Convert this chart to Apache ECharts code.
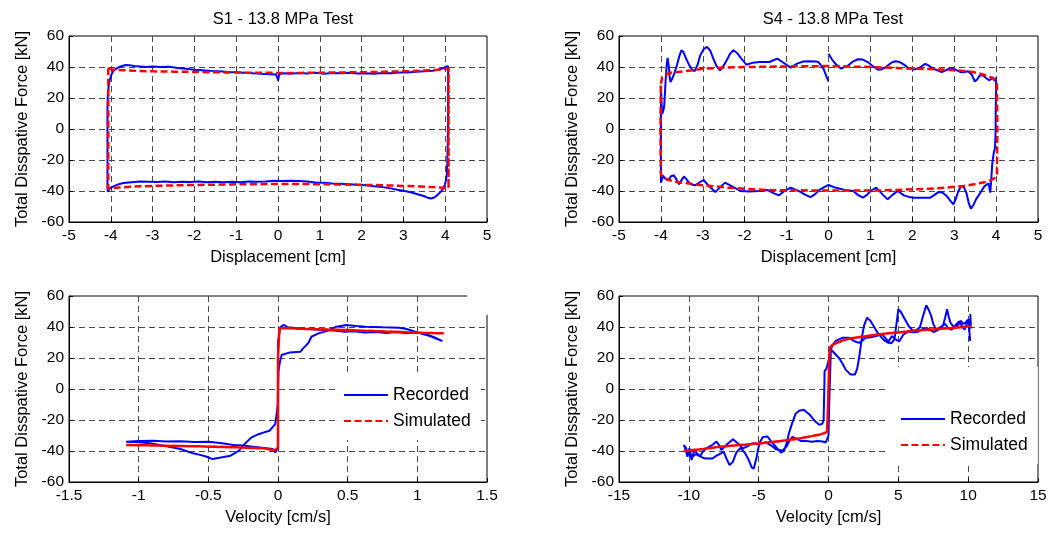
<!DOCTYPE html>
<html>
<head>
<meta charset="utf-8">
<script src="https://cdn.jsdelivr.net/npm/echarts@6/dist/echarts.min.js"></script>
<style>
html,body{margin:0;padding:0;background:#fff;}
#chart{width:1062px;height:533px;}
</style>
</head>
<body>
<div id="chart"></div>
<script>
// ---------- Titles / labels ----------
const panelTitles = ['S1 - 13.8 MPa Test', 'S4 - 13.8 MPa Test'];
const yName = 'Total Disspative Force [kN]';
const xNames = ['Displacement [cm]', 'Displacement [cm]', 'Velocity [cm/s]', 'Velocity [cm/s]'];
const legendNames = ['Recorded', 'Simulated'];

// ---------- S1 : force vs displacement ----------
const s1DispRec = [
 [0.00,31.0],[0.03,35.4],[0.15,35.9],[0.3,35.6],[0.5,36.2],[0.7,35.8],[0.9,36.3],[1.1,35.7],[1.3,36.1],[1.5,35.9],
 [1.7,36.3],[1.9,35.8],[2.1,36.0],[2.3,35.7],[2.5,36.2],[2.7,36.0],[2.9,36.4],[3.1,36.5],[3.3,36.9],[3.5,37.2],
 [3.7,37.6],[3.85,38.3],[3.95,39.2],[4.02,40.3],[4.05,41.5],[4.07,40.5],[4.07,30],[4.07,10],[4.06,-10],[4.05,-22],
 [4.04,-29],[4.02,-33],[3.99,-36],[3.95,-38.5],[3.9,-40.2],[3.82,-42.5],[3.74,-44.2],[3.66,-44.8],[3.58,-44.3],[3.5,-43.4],
 [3.4,-42.6],[3.3,-41.8],[3.15,-40.6],[3.0,-39.8],[2.85,-39.2],[2.7,-38.3],[2.5,-37.5],[2.3,-37.0],[2.1,-36.3],[1.9,-36.0],
 [1.7,-35.6],[1.5,-35.3],[1.3,-35.1],[1.1,-34.7],[0.9,-34.5],[0.7,-33.8],[0.5,-33.6],[0.3,-33.4],[0.1,-33.5],[-0.1,-33.4],
 [-0.3,-33.8],[-0.5,-34.1],[-0.7,-33.9],[-0.9,-34.3],[-1.1,-34.0],[-1.3,-34.4],[-1.5,-34.1],[-1.7,-34.3],[-1.9,-33.8],[-2.1,-34.2],
 [-2.3,-34.0],[-2.5,-34.3],[-2.7,-33.9],[-2.9,-34.2],[-3.1,-34.0],[-3.3,-33.8],[-3.5,-34.3],[-3.7,-34.8],[-3.85,-36.0],[-3.95,-37.2],
 [-4.03,-38.5],[-4.07,-40.5],[-4.08,-38],[-4.08,-20],[-4.08,0],[-4.08,15],[-4.07,23],[-4.05,28],[-4.02,32],[-3.98,35.5],
 [-3.93,37.8],[-3.85,39.3],[-3.75,40.5],[-3.65,41.3],[-3.55,41.2],[-3.45,40.6],[-3.3,40.4],[-3.15,40.0],[-3.0,40.3],[-2.8,40.0],
 [-2.6,40.2],[-2.4,39.4],[-2.2,38.8],[-2.0,38.2],[-1.8,37.9],[-1.6,37.5],[-1.4,37.3],[-1.2,36.8],[-1.0,36.6],[-0.8,36.3],
 [-0.6,35.9],[-0.4,35.6],[-0.2,35.4],[-0.05,35.2],[0.0,32]
];
const s1DispSim = [
 [-4.06,39.2],[-3.95,38.4],[-3.7,37.9],[-3.4,37.5],[-3.0,37.2],[-2.5,37.0],[-2.0,36.8],[-1.5,36.6],[-1.0,36.4],[-0.5,36.3],
 [0,36.2],[0.5,36.2],[1.0,36.3],[1.5,36.5],[2.0,36.6],[2.5,36.9],[3.0,37.2],[3.5,37.7],[3.8,38.2],[4.0,38.7],
 [4.08,39.2],[4.08,-38.4],[4.08,39.0],[4.08,-38.4],[3.95,-37.9],[3.7,-37.5],[3.4,-37.1],[3.0,-36.7],[2.5,-36.3],[2.0,-36.0],
 [1.5,-35.8],[1.0,-35.6],[0.5,-35.5],[0,-35.5],[-0.5,-35.6],[-1.0,-35.7],[-1.5,-35.9],[-2.0,-36.1],[-2.5,-36.4],[-3.0,-36.7],
 [-3.5,-37.2],[-3.8,-37.7],[-3.97,-38.2],[-4.06,-38.6],[-4.06,39.2]
];

// ---------- S4 : force vs displacement ----------
const s4DispRec = [
 [0.0,48.6],[0.08,45],[0.16,42.2],[0.3,38.9],[0.47,41],[0.58,43.5],[0.7,45],[0.82,44.8],[0.94,43.2],[1.06,40.5],
 [1.18,38.3],[1.28,38.6],[1.37,40],[1.5,42.8],[1.6,43.7],[1.7,43.2],[1.8,41.5],[1.92,39.2],[2.04,38.3],[2.17,39.5],
 [2.31,42],[2.4,40.8],[2.5,38.9],[2.6,37.8],[2.7,36.8],[2.8,37.8],[2.9,39.4],[3.02,38.5],[3.14,36.8],[3.23,36.6],
 [3.33,37.2],[3.42,35],[3.49,30.7],[3.55,32],[3.6,34.2],[3.67,34.8],[3.73,33.5],[3.83,31.4],[3.88,32.2],[3.92,33.5],
 [3.96,31],[3.98,30.3],[4.0,33],[4.0,25],[3.99,10],[3.99,0],[3.98,-8],[3.97,-13],[3.95,-14.5],[3.93,-18],
 [3.91,-22],[3.89,-30],[3.87,-38],[3.86,-41],[3.84,-38],[3.82,-35],[3.78,-34.6],[3.72,-37],[3.65,-40],[3.58,-43],
 [3.52,-45.4],[3.46,-49],[3.4,-51.5],[3.35,-48],[3.29,-41],[3.23,-37.5],[3.17,-36.8],[3.1,-40],[3.04,-45],[2.98,-48.6],
 [2.9,-46],[2.82,-43.2],[2.72,-41],[2.63,-40.6],[2.53,-42.5],[2.43,-44.3],[2.2,-44.3],[2.04,-44.3],[1.92,-43.8],[1.8,-42.8],
 [1.65,-40],[1.53,-42.5],[1.41,-45.4],[1.3,-42.5],[1.14,-37.8],[1.0,-40],[0.92,-42.5],[0.82,-44.3],[0.7,-42.5],[0.59,-40],
 [0.39,-39.4],[0.16,-37.8],[0.0,-36.1],[-0.2,-38.9],[-0.32,-42],[-0.43,-43.9],[-0.55,-42.5],[-0.67,-40.6],[-0.9,-37.8],[-1.05,-40],
 [-1.18,-42.8],[-1.3,-41.5],[-1.45,-39.4],[-1.65,-40],[-1.9,-40.3],[-2.1,-40],[-2.3,-37],[-2.47,-34.6],[-2.6,-38],[-2.7,-40.6],
 [-2.85,-37],[-2.98,-32.9],[-3.08,-34.5],[-3.18,-36.3],[-3.27,-35.8],[-3.33,-34.6],[-3.4,-32],[-3.45,-30.7],[-3.52,-33.5],[-3.57,-35.7],
 [-3.63,-32.5],[-3.69,-29.8],[-3.76,-30.5],[-3.82,-33],[-3.9,-32],[-3.95,-30],[-3.98,-33],[-4.0,-34.6],[-4.0,-25],[-4.0,-10],
 [-4.0,5],[-4.0,18],[-4.0,28],[-3.98,15],[-3.97,9.7],[-3.94,12],[-3.92,15],[-3.89,30],[-3.86,42],[-3.84,45.8],
 [-3.81,40],[-3.79,33],[-3.77,30.3],[-3.73,30],[-3.69,35],[-3.62,41],[-3.56,47],[-3.51,50.8],[-3.46,49.5],[-3.4,45.5],
 [-3.33,41.5],[-3.26,38.5],[-3.2,37.2],[-3.13,41],[-3.06,47.6],[-2.98,51.5],[-2.9,53],[-2.82,50.5],[-2.75,45.4],[-2.67,40.5],
 [-2.59,37.8],[-2.5,41],[-2.43,44.3],[-2.35,48.5],[-2.27,50.8],[-2.18,49],[-2.08,45.4],[-1.96,41.5],[-1.8,42.8],[-1.65,43.2],
 [-1.41,43.2],[-1.3,44.5],[-1.22,45.4],[-1.1,43.2],[-0.9,39.6],[-0.75,42.2],[-0.6,43.5],[-0.47,43.7],[-0.3,43.5],[-0.24,43.2],
 [-0.12,38.9],[-0.05,34],[0.0,30.7]
];
const s4DispSim = [
 [-4.0,29.2],[-3.97,33],[-3.9,34.8],[-3.77,36.3],[-3.45,37.2],[-2.98,38.9],[-2.5,39.6],[-1.88,40.0],[-1.0,40.4],[0,40.6],
 [1.0,40.0],[2.04,38.9],[2.82,38.3],[3.2,37.5],[3.45,36.8],[3.65,35.5],[3.8,34.2],[3.92,32.8],[3.98,31.5],[4.02,29.2],
 [4.03,0],[4.02,-29.2],[3.97,-31.5],[3.9,-32.8],[3.75,-34.2],[3.5,-35.5],[3.22,-36.8],[2.8,-37.8],[2.43,-38.5],[1.25,-39.6],
 [0,-39.7],[-1.49,-39.4],[-2.43,-37.8],[-3.06,-36.1],[-3.61,-34.2],[-3.85,-32.6],[-3.95,-31],[-4.0,-29.2],[-4.01,0],[-4.0,29.2]
];

// ---------- S1 : force vs velocity ----------
const s1VelRec = [
 [1.18,30.9],[1.12,33.5],[1.06,35.5],[1.0,36.4],[0.92,36.0],[0.85,36.7],[0.78,36.2],[0.7,36.8],[0.62,36.4],[0.55,37.2],
 [0.48,37.0],[0.4,37.8],[0.32,38.0],[0.25,38.6],[0.18,38.9],[0.12,39.3],[0.07,39.8],[0.045,41.3],[0.03,40.8],[0.015,39.5],
 [0.0,30],[0.0,0],[-0.002,-10],[-0.008,-15],[-0.02,-22.6],[-0.06,-26.9],[-0.1,-28],[-0.135,-29],[-0.19,-31.2],[-0.24,-35.5],
 [-0.28,-39.8],[-0.34,-43],[-0.4,-44],[-0.47,-45.2],[-0.51,-43.7],[-0.56,-42.5],[-0.61,-41.5],[-0.7,-38.7],[-0.8,-37],[-0.92,-35],
 [-1.0,-34.4],[-1.09,-34],[-1.09,-33.3],[-1.0,-33.6],[-0.9,-33.4],[-0.8,-33.9],[-0.7,-33.7],[-0.6,-34.2],[-0.5,-34.0],[-0.4,-35.0],
 [-0.32,-36.1],[-0.25,-36.5],[-0.18,-37.2],[-0.1,-38.0],[-0.04,-38.7],[-0.02,-40.9],[0.0,-38],[0.0,0],[0.004,12],[0.014,17.6],
 [0.026,21.9],[0.086,23.6],[0.16,24.0],[0.18,26.2],[0.2,28],[0.22,30],[0.24,33.7],[0.29,35.9],[0.35,37.4],[0.42,40.2],
 [0.49,41.3],[0.56,40.6],[0.63,40.2],[0.75,39.8],[0.87,39.5],[0.93,38.5],[1.02,35.9],[1.09,34.1],[1.18,30.9]
];
const s1VelSimOneWay = [
 [1.19,35.9],[1.0,36.3],[0.75,37.2],[0.5,38.0],[0.3,38.5],[0.15,38.9],[0.05,39.3],[0.01,39.2],[0.0,20],[0.0,-37.5],
 [-0.01,-38.8],[-0.03,-39.5],[-0.1,-38.3],[-0.3,-37.6],[-0.56,-37.0],[-0.8,-36.6],[-1.09,-36.1]
];

// ---------- S4 : force vs velocity ----------
const s4VelRec = [
 [10.15,48.5],[10.17,45],[10.19,42.2],[10.17,38.9],[10.13,41],[10.04,45],[9.92,43.2],[9.84,40.5],[9.75,38.3],[9.59,40],
 [9.36,43.7],[9.12,41.5],[8.95,39.2],[8.79,38.3],[8.55,39.5],[8.35,42],[8.17,40.8],[7.99,38.9],[7.78,37.8],[7.56,36.8],
 [7.3,37.8],[7.06,39.4],[6.7,38.5],[6.37,36.8],[6.0,36.6],[5.71,37.2],[5.35,35],[5.06,30.7],[4.8,32],[4.54,34.2],
 [4.29,30.5],[3.82,35.5],[3.35,34],[2.9,33.2],[2.64,33],[2.4,31],[2.17,29.8],[1.82,31],[1.46,33],[0.99,33],
 [0.52,31],[0.3,28.5],[0.17,27.7],[0.1,24],[0.0,18],[-0.15,13],[-0.28,11.5],[-0.3,0],[-0.33,-12],[-0.35,-20],
 [-0.45,-22.5],[-0.66,-23.1],[-0.94,-21],[-1.3,-17],[-1.77,-13.4],[-2.1,-14],[-2.36,-16],[-2.6,-22],[-2.83,-28.5],[-3.0,-35],
 [-3.18,-39.8],[-3.4,-41],[-3.7,-38],[-4.0,-35],[-4.36,-30.7],[-4.7,-31],[-4.95,-35],[-5.15,-44],[-5.35,-51.3],[-5.5,-50.5],
 [-5.7,-46],[-6.0,-41],[-6.3,-38],[-6.6,-41],[-6.85,-47],[-7.08,-49.1],[-7.3,-45],[-7.5,-40.6],[-7.8,-42],[-8.05,-43.2],
 [-8.3,-44.8],[-8.8,-44.8],[-9.0,-44.3],[-9.3,-43],[-9.5,-42],[-9.67,-43.2],[-9.85,-44.5],[-10.0,-41],[-10.1,-43.7],[-10.2,-40],
 [-10.3,-38.9],[-10.35,-36.1],[-10.2,-38],[-10.1,-41.5],[-9.95,-38.3],[-9.8,-45.8],[-9.7,-42],[-9.6,-39.4],[-9.4,-41.5],[-9.2,-43.5],
 [-8.96,-39.8],[-8.6,-37.5],[-8.3,-36],[-8.02,-33.9],[-7.85,-36],[-7.67,-39.4],[-7.3,-36],[-6.84,-32.4],[-6.5,-35],[-6.13,-38.3],
 [-5.8,-37],[-5.42,-35],[-5.0,-35.5],[-4.48,-34.4],[-4.1,-36.5],[-3.77,-38.9],[-3.3,-39.8],[-3.0,-37],[-2.83,-34],[-2.6,-31],
 [-2.3,-32],[-2.0,-33.5],[-1.6,-33.5],[-1.2,-34],[-0.8,-33.5],[-0.42,-33.9],[-0.2,-34.5],[-0.07,-35],[0.0,-30],[0.05,-10],
 [0.1,5],[0.15,20],[0.17,25.5],[0.4,23.4],[0.75,20],[1.0,16.5],[1.23,12.5],[1.58,9.3],[1.89,9.3],[2.05,13],
 [2.17,19],[2.3,27],[2.4,34],[2.55,41],[2.76,46],[3.0,44],[3.23,40.6],[3.5,36.5],[3.82,33],[4.05,31],
 [4.29,29.8],[4.5,29.5],[4.72,32],[4.87,42],[5.0,51.5],[5.2,49.5],[5.47,45],[5.75,40.5],[6.06,37.4],[6.3,38],
 [6.55,40],[6.8,48],[7.0,54],[7.18,51],[7.36,47],[7.5,42],[7.7,38.5],[7.95,39.5],[8.2,41],[8.35,46],
 [8.49,51.5],[8.6,47],[8.73,42.8],[9.0,39.6],[9.25,41],[9.48,43.9],[9.65,42],[9.83,42.8],[9.95,44.5],[10.05,41.5],
 [10.14,31]
];
const s4VelSimOneWay = [
 [-10.38,-40],[-9,-38.7],[-8,-37.5],[-7,-36.6],[-6,-35.9],[-5,-35.1],[-4,-34.2],[-3,-33.1],[-2,-31.8],[-1.2,-30.4],
 [-0.6,-29.3],[-0.25,-28.3],[-0.1,-27.5],[-0.05,-15],[0.0,0],[0.05,18],[0.1,26.5],[0.2,27.8],[0.52,29.5],[1.0,31.2],
 [1.46,32.5],[2.0,33.2],[3.0,34.5],[3.82,35.5],[5.0,36.5],[6.18,37.6],[7.0,38.2],[8.0,38.8],[8.54,39.2],[9.5,39.9],
 [10.2,40.6]
];

// ---------- Axis ranges ----------
const xRanges = [[-5,5,1],[-5,5,1],[-1.5,1.5,0.5],[-15,15,5]];
const yRange = [-60,60,20];

// simulated velocity loops are traced out and back along the same curve
const s1VelSim = s1VelSimOneWay.concat(s1VelSimOneWay.slice().reverse().slice(1));
const s4VelSim = s4VelSimOneWay.concat(s4VelSimOneWay.slice().reverse().slice(1));

const recData = [s1DispRec, s4DispRec, s1VelRec, s4VelRec];
const simData = [s1DispSim, s4DispSim, s1VelSim, s4VelSim];

const FONT = 'Liberation Sans, Arial, Helvetica, sans-serif';
const grids = [
  {left:69, top:36, width:418, height:186},
  {left:619, top:36, width:419, height:186},
  {left:69, top:296, width:418, height:186},
  {left:619, top:296, width:419, height:186}
].map(g => Object.assign({show:true, borderColor:'#000', borderWidth:1, backgroundColor:'#fff', containLabel:false}, g));

const gridLine = {show:true, showMinLine:false, showMaxLine:false, lineStyle:{color:'#4a4a4a', width:1, type:[6,4]}};

const xAxes = xRanges.map((r,i) => ({
  type:'value', gridIndex:i, min:r[0], max:r[1], interval:r[2],
  name:xNames[i], nameLocation:'middle', nameGap:27,
  nameTextStyle:{color:'#000', fontSize:16.5, fontFamily:FONT},
  axisLine:{show:true, onZero:false, lineStyle:{color:'#000', width:1}},
  axisTick:{show:true, inside:true, length:4, lineStyle:{color:'#000'}},
  axisLabel:{color:'#000', fontSize:15.5, fontFamily:FONT, margin:6},
  splitLine:gridLine
}));
const yAxes = [0,1,2,3].map(i => ({
  type:'value', gridIndex:i, min:yRange[0], max:yRange[1], interval:yRange[2],
  name:yName, nameLocation:'middle', nameGap:38,
  nameTextStyle:{color:'#000', fontSize:16.5, fontFamily:FONT},
  axisLine:{show:true, onZero:false, lineStyle:{color:'#000', width:1}},
  axisTick:{show:true, inside:true, length:4, lineStyle:{color:'#000'}},
  axisLabel:{color:'#000', fontSize:15.5, fontFamily:FONT, margin:5},
  splitLine:gridLine
}));

const series = [];
for (let i = 0; i < 4; i++) {
  series.push({
    name:legendNames[0], type:'line', xAxisIndex:i, yAxisIndex:i, data:recData[i],
    symbol:'none', showSymbol:false, smooth:false, z:3,
    lineStyle:{color:'#0000ff', width:2}, itemStyle:{color:'#0000ff'}
  });
}
for (let i = 0; i < 4; i++) {
  series.push({
    name:legendNames[1], type:'line', xAxisIndex:i, yAxisIndex:i, data:simData[i],
    symbol:'none', showSymbol:false, smooth:false, z:4,
    lineStyle:{color:'#ff0000', width:2.5, type:[7,3.5]}, itemStyle:{color:'#ff0000'}
  });
}

const legendBase = {
  orient:'vertical', itemWidth:44, itemHeight:14, itemGap:8, selectedMode:false,
  backgroundColor:'#fff', data:legendNames,
  itemStyle:{opacity:0},
  textStyle:{color:'#000', fontSize:17.5, fontFamily:FONT}
};

const option = {
  animation:false,
  backgroundColor:'#fff',
  title:[
    {text:panelTitles[0], left:278, top:6, textAlign:'center', textStyle:{color:'#000', fontSize:16.5, fontWeight:'normal', fontFamily:FONT}},
    {text:panelTitles[1], left:828, top:6, textAlign:'center', textStyle:{color:'#000', fontSize:16.5, fontWeight:'normal', fontFamily:FONT}}
  ],
  grid:grids,
  xAxis:xAxes,
  yAxis:yAxes,
  legend:[
    Object.assign({}, legendBase, {left:337, top:376, padding:[10,10,10,6], z:20}),
    Object.assign({}, legendBase, {left:887, top:367, padding:[43,10,10,13], z:20})
  ],
  graphic:[
    {type:'rect', shape:{x:467, y:293, width:23, height:22}, style:{fill:'#fff'}, z:100}
  ],
  series:series
};

const chart = echarts.init(document.getElementById('chart'), null, {renderer:'canvas'});
chart.setOption(option);
</script>
</body>
</html>
